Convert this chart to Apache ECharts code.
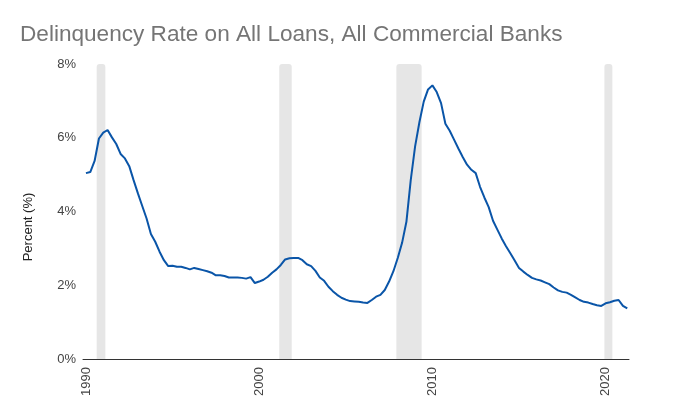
<!DOCTYPE html>
<html>
<head>
<meta charset="utf-8">
<script src="https://cdn.jsdelivr.net/npm/echarts@6/dist/echarts.min.js"></script>
<style>
html,body{margin:0;padding:0;background:#fff;}
#chart{width:675px;height:417px;}
</style>
</head>
<body>
<div id="chart"></div>
<script>
// Quarterly series, 1990 Q1 .. 2021 Q2
const startYear = 1990;
const rates = [
  5.04, 5.07, 5.37, 5.98, 6.14, 6.21, 6.01, 5.83, 5.56, 5.44,
  5.23, 4.85, 4.49, 4.15, 3.81, 3.39, 3.18, 2.91, 2.68, 2.52,
  2.53, 2.50, 2.50, 2.47, 2.43, 2.47, 2.44, 2.41, 2.38, 2.34,
  2.27, 2.27, 2.25, 2.21, 2.21, 2.21, 2.20, 2.18, 2.22, 2.06,
  2.10, 2.15, 2.23, 2.34, 2.43, 2.55, 2.70, 2.73, 2.74, 2.74,
  2.68, 2.57, 2.52, 2.39, 2.21, 2.12, 1.96, 1.84, 1.74, 1.66,
  1.61, 1.57, 1.56, 1.55, 1.53, 1.52, 1.60, 1.69, 1.74, 1.87,
  2.10, 2.38, 2.74, 3.15, 3.72, 4.85, 5.76, 6.42, 6.98, 7.31,
  7.42, 7.24, 6.94, 6.38, 6.19, 5.95, 5.71, 5.48, 5.27, 5.13,
  5.04, 4.67, 4.38, 4.12, 3.75, 3.51, 3.27, 3.06, 2.87, 2.67,
  2.47, 2.37, 2.28, 2.20, 2.16, 2.13, 2.08, 2.03, 1.94, 1.86,
  1.82, 1.80, 1.74, 1.67, 1.60, 1.55, 1.53, 1.49, 1.46, 1.44,
  1.51, 1.54, 1.58, 1.60, 1.44, 1.37
];
// Recession periods (decimal years)
const recessions = [
  [1990.62, 1991.12],
  [2001.16, 2001.88],
  [2007.92, 2009.38],
  [2019.93, 2020.39]
];
const xTickLabels = [1990, 2000, 2010, 2020];

const lineData = rates.map((v, i) => [startYear + i / 4, v]);
const FONT = 'Liberation Sans, Arial, sans-serif';

const chart = echarts.init(document.getElementById('chart'), null, {renderer: 'canvas'});
chart.setOption({
  animation: false,
  backgroundColor: '#ffffff',
  title: {
    text: 'Delinquency Rate on All Loans, All Commercial Banks',
    left: 15,
    top: 18,
    textStyle: {
      fontFamily: FONT,
      fontSize: 22.6,
      fontWeight: 'normal',
      color: '#757575'
    }
  },
  graphic: [{
    type: 'text',
    x: 28,
    y: 227,
    rotation: Math.PI / 2,
    silent: true,
    style: {
      text: 'Percent (%)',
      align: 'center',
      verticalAlign: 'middle',
      fill: '#222222',
      fontSize: 13,
      fontFamily: FONT
    }
  }],
  grid: {left: 83, right: 46, top: 64, bottom: 58, containLabel: false},
  xAxis: {
    type: 'value',
    min: 1989.83,
    max: 2021.35,
    splitLine: {show: false},
    axisTick: {show: false},
    axisLine: {show: true, lineStyle: {color: '#333333', width: 1}},
    axisLabel: {
      customValues: xTickLabels,
      rotate: 90,
      margin: 8,
      color: '#444444',
      fontSize: 13,
      fontFamily: FONT,
      formatter: v => String(Math.round(v))
    }
  },
  yAxis: {
    type: 'value',
    min: 0,
    max: 8,
    interval: 2,
    splitLine: {show: false},
    axisTick: {show: false},
    axisLine: {show: false},
    axisLabel: {
      color: '#444444',
      fontSize: 13,
      margin: 7,
      fontFamily: FONT,
      formatter: '{value}%'
    }
  },
  series: [
    {
      type: 'custom',
      z: 1,
      silent: true,
      encode: {x: [0, 1]},
      data: recessions,
      renderItem: function (params, api) {
        const a = api.coord([api.value(0), 8]);
        const b = api.coord([api.value(1), 0]);
        return {
          type: 'rect',
          shape: {x: a[0], y: a[1], width: b[0] - a[0], height: b[1] - a[1], r: [3, 3, 0, 0]},
          style: {fill: '#e6e6e6'}
        };
      }
    },
    {
      type: 'line',
      z: 3,
      data: lineData,
      showSymbol: false,
      symbol: 'none',
      lineStyle: {color: '#0a55a8', width: 2},
      itemStyle: {color: '#0a55a8'}
    }
  ]
});
</script>
</body>
</html>
